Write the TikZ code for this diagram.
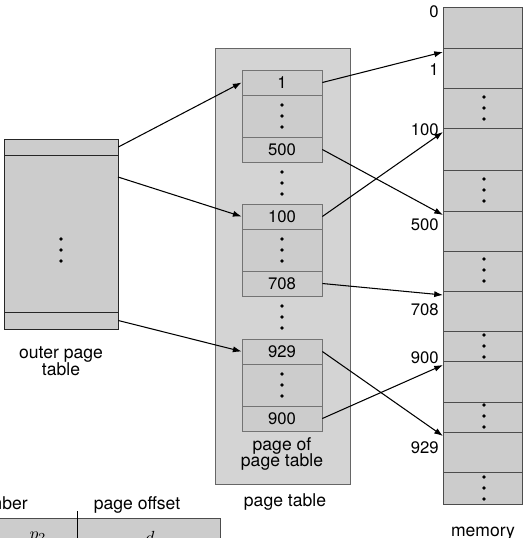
\documentclass[tikz,border=0pt]{standalone}
\usepackage{fontspec}
\setmainfont{TeX Gyre Heros}
\usetikzlibrary{arrows.meta}

\tikzstyle{ptrow} = [rectangle, draw=black!55, fill=black!20, minimum width=1.6cm, minimum height=0.5cm, inner sep=0pt, font=\fontsize{9.5}{11}\selectfont]
\tikzstyle{ptgap} = [rectangle, draw=black!55, fill=black!20, minimum width=1.6cm, minimum height=0.84cm, inner sep=0pt]
\tikzstyle{otrow} = [rectangle, draw=black!85, fill=black!20, minimum width=2.28cm, inner sep=0pt]
\tikzstyle{memcell} = [draw=black!70, fill=black!20]
\tikzstyle{lbl} = [font=\fontsize{10}{9.5}\selectfont, align=center, inner sep=0pt]
\tikzstyle{numlbl} = [font=\fontsize{9.5}{11}\selectfont, anchor=east, inner sep=0pt]
\tikzstyle{link} = [-{Latex[length=5pt,width=3.5pt]}, semithick]

\newcommand{\pgdots}[2]{\foreach \k in {-1,0,1} {\fill (#1,#2+\k*11) circle (1.1pt);}}

\begin{document}
\begin{tikzpicture}[x=0.02cm, y=-0.02cm]
  \useasboundingbox (0,0) rectangle (529,538);
  \clip (0,0) rectangle (529,538);

  % outer page table
  \node[otrow, minimum height=0.32cm] (o1) at (61,147) {};
  \node[otrow, minimum height=3.14cm] (o2) at (61,233.5) {};
  \node[otrow, minimum height=0.34cm] (o3) at (61,320.5) {};
  \pgdots{61}{250}
  \coordinate (ent2) at (118,177);
  \node[lbl] (otlabel) at (61,361) {outer page\\table};

  % page table
  \node[rectangle, draw=black!60, fill=black!17, minimum width=2.7cm, minimum height=8.72cm] (pt) at (282.5,266) {};
  \foreach \t/\a/\b [count=\g] in {70/1/500, 204/100/708, 339/929/900} {
    \node[ptrow] (a\g) at (282,\t+12.5) {\a};
    \node[ptgap] (d\g) at (282,\t+46) {};
    \node[ptrow] (b\g) at (282,\t+79.5) {\b};
    \pgdots{282}{\t+46}
  }
  \pgdots{282}{183}
  \pgdots{282}{317}
  \node[lbl] (pglabel) at (282,454) {page of\\page table};
  \node[lbl] (ptlabel) at (285,502) {page table};

  % memory
  \foreach \a/\b [count=\i from 0] in {7/48, 48/88, 88/128, 128/170, 170/211, 211/251, 251/291, 291/331, 331/361, 361/402, 402/432, 432/472, 472/504} {
    \draw[memcell] (443,\a) rectangle (522,\b);
    \coordinate (f\i) at (443,\a+4);
  }
  \foreach \y in {108, 190, 270, 346, 416, 488} {
    \pgdots{484}{\y}
  }
  \foreach \n/\y in {0/12, 1/70, 100/130, 500/225, 708/310, 900/358, 929/448} {
    \node[numlbl] (m\n) at (439,\y) {\n};
  }
  \node[lbl] (memlabel) at (483,534) {memory};

  % links
  \draw[link] (o1.east) -- (a1.west);
  \draw[link] (ent2) -- (a2.west);
  \draw[link] (o3.east) -- (a3.west);
  \draw[link] (a1.east) -- (f1);
  \draw[link] (b1.east) -- (f5);
  \draw[link] (a2.east) -- (f3);
  \draw[link] (b2.east) -- (f7);
  \draw[link] (a3.east) -- (f11);
  \draw[link] (b3.east) -- (f9);

  % logical address (cut off)
  \node[lbl, anchor=east] (pnum) at (28,505) {page number};
  \node[lbl] (poff) at (137,505) {page offset};
  \draw[draw=black!70, fill=black!20] (-5,518) rectangle (220,570);
  \draw (77,511) -- (77,570);
  \node (p2) at (38,537) {$p_2$};
  \node (off) at (150,537) {$d$};
\end{tikzpicture}
\end{document}
